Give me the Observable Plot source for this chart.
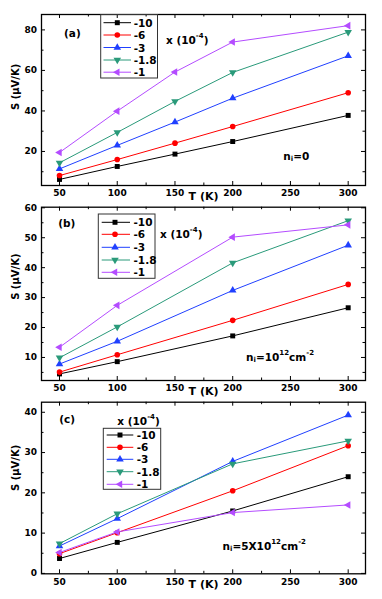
<!DOCTYPE html>
<html><head><meta charset="utf-8">
<script src="https://cdn.jsdelivr.net/npm/d3@7"></script>
<script src="https://cdn.jsdelivr.net/npm/@observablehq/plot@0.6"></script>
<style>
body{margin:0;background:#fff}
#chart{position:relative;width:382px;height:599px;overflow:hidden}
#chart svg{position:absolute;left:0}
</style>
</head><body><div id="chart"></div>
<script>
// ---- data ----
const seriesNames = ["-10", "-6", "-3", "-1.8", "-1"];
const seriesColors = ["#000000", "#ff0000", "#2040ff", "#2a9a7a", "#b44cff"];

const tempsA = [50, 100, 150, 200, 300];
const sA_m10 = [6.2, 12.6, 18.7, 24.9, 37.8];
const sA_m6 = [8.1, 16.0, 24.1, 32.3, 49.0];
const sA_m3 = [11.4, 23.0, 34.5, 46.3, 67.2];
const sA_m18 = [14.4, 29.4, 44.7, 59.0, 78.9];
const sA_m1 = [19.5, 39.9, 59.2, 74.0, 82.1];

const tempsB = [50, 100, 200, 300];
const sB_m10 = [4.5, 8.6, 17.2, 26.6];
const sB_m6 = [5.1, 10.9, 22.4, 34.4];
const sB_m3 = [7.8, 15.4, 32.4, 47.5];
const sB_m18 = [9.9, 20.2, 41.6, 55.7];
const sB_m1 = [13.4, 27.4, 50.2, 54.3];

const tempsC = [50, 100, 200, 300];
const sC_m10 = [3.7, 7.7, 15.5, 24.0];
const sC_m6 = [4.9, 10.1, 20.5, 31.7];
const sC_m3 = [6.8, 13.6, 27.8, 39.3];
const sC_m18 = [7.4, 14.8, 27.2, 32.9];
const sC_m1 = [5.2, 10.3, 15.1, 17.0];

const xTicks = [50, 100, 150, 200, 250, 300];
const xMinor = [75, 125, 175, 225, 275];
const yTicksA = [20, 40, 60, 80], yMinorA = [10, 30, 50, 70];
const yTicksB = [10, 20, 30, 40, 50, 60], yMinorB = [5, 15, 25, 35, 45, 55];
const yTicksC = [0, 10, 20, 30, 40], yMinorC = [5, 15, 25, 35];

const labelX = "T (K)";
const labelY = "S (\u03bcV/K)";
const xUnit = ["x (10", "-4", ")"];

// ---- symbols ----
const triDown = {draw(ctx, size) {
  const y = Math.sqrt(size / (3 * Math.sqrt(3)));
  ctx.moveTo(0, 2 * y); ctx.lineTo(-Math.sqrt(3) * y, -y); ctx.lineTo(Math.sqrt(3) * y, -y); ctx.closePath();
}};
const triLeft = {draw(ctx, size) {
  const y = Math.sqrt(size / (3 * Math.sqrt(3)));
  ctx.moveTo(-2 * y, 0); ctx.lineTo(y, -Math.sqrt(3) * y); ctx.lineTo(y, Math.sqrt(3) * y); ctx.closePath();
}};
const seriesSymbols = [d3.symbolSquare, d3.symbolCircle, d3.symbolTriangle, triDown, triLeft];

function rows(temps, lists) {
  const out = [];
  lists.forEach((vals, i) => vals.forEach((v, j) => out.push({T: temps[j], S: v, x: seriesNames[i]})));
  return out;
}

const W = 382, ML = 41, MR = 17;
const FONT = "DejaVu Sans";

function panel(cfg) {
  const innerW = W - ML - MR, innerH = cfg.height - cfg.mt - cfg.mb;
  const data = rows(cfg.temps, cfg.lists);
  const marks = [];
  seriesNames.forEach((name, i) => {
    const d = data.filter(r => r.x === name);
    marks.push(Plot.line(d, {x: "T", y: "S", stroke: seriesColors[i], strokeWidth: 1}));
    marks.push(Plot.dot(d, {x: "T", y: "S", fill: seriesColors[i], stroke: "none", symbol: seriesSymbols[i], r: 2.8}));
  });
  const maj = 4, min = 2.5;
  marks.push(
    Plot.tickX(xTicks, {x: d => d, insetTop: innerH - maj, stroke: "black"}),
    Plot.tickX(xTicks, {x: d => d, insetBottom: innerH - maj, stroke: "black"}),
    Plot.tickX(xMinor, {x: d => d, insetTop: innerH - min, stroke: "black"}),
    Plot.tickX(xMinor, {x: d => d, insetBottom: innerH - min, stroke: "black"}),
    Plot.tickY(cfg.yTicks, {y: d => d, insetRight: innerW - maj, stroke: "black"}),
    Plot.tickY(cfg.yTicks, {y: d => d, insetLeft: innerW - maj, stroke: "black"}),
    Plot.tickY(cfg.yMinor, {y: d => d, insetRight: innerW - min, stroke: "black"}),
    Plot.tickY(cfg.yMinor, {y: d => d, insetLeft: innerW - min, stroke: "black"}),
    Plot.axisX({ticks: xTicks, tickSize: 0, tickPadding: 4.5, label: null, anchor: "bottom"}),
    Plot.axisY({ticks: cfg.yTicks, tickSize: 0, tickPadding: 4.5, label: null, anchor: "left"}),
    Plot.frame({stroke: "black", strokeWidth: 1.3}),
    Plot.text([labelX], {text: d => d, frameAnchor: "bottom", dy: 10.5, fontSize: 11, lineAnchor: "middle", fill: "black"}),
    Plot.text([labelY], {text: d => d, frameAnchor: "left", rotate: -90, dx: -26, dy: cfg.sdy, fontSize: 10, lineAnchor: "middle", fill: "black"})
  );
  const svg = Plot.plot({
    width: W, height: cfg.height,
    marginLeft: ML, marginRight: MR, marginTop: cfg.mt, marginBottom: cfg.mb,
    style: {fontFamily: FONT, fontWeight: "bold", fontSize: "9px", background: "transparent", overflow: "visible", color: "black"},
    x: {domain: [34.4, 315]},
    y: {domain: cfg.yDomain},
    marks
  });
  svg.style.top = cfg.top + "px";
  annotate(svg, cfg);
  return svg;
}

function annotate(svg, cfg) {
  const off = cfg.top;
  const g = d3.select(svg).append("g")
    .attr("font-family", FONT).attr("font-weight", "bold").attr("font-size", 10.5)
    .attr("fill", "black").attr("text-anchor", "start");
  // panel letter
  g.append("text").attr("x", cfg.letter[0]).attr("y", cfg.letter[1] - off)
    .attr("dominant-baseline", "central").text(cfg.letterText);
  // x (10^-4)
  const t = g.append("text").attr("x", cfg.unit[0]).attr("y", cfg.unit[1] - off).attr("dominant-baseline", "central");
  t.append("tspan").text(xUnit[0]);
  t.append("tspan").attr("font-size", 7).attr("dy", -4).text(xUnit[1]);
  t.append("tspan").attr("dy", 4).text(xUnit[2]);
  // legend
  const L = cfg.legend;
  g.append("rect").attr("x", L.x0).attr("y", L.y0 - off).attr("width", L.x1 - L.x0).attr("height", L.y1 - L.y0)
    .attr("fill", "none").attr("stroke", "#333").attr("stroke-width", 1);
  seriesNames.forEach((name, i) => {
    const y = L.ys[i] - off;
    g.append("line").attr("x1", L.l0).attr("x2", L.l1).attr("y1", y).attr("y2", y)
      .attr("stroke", seriesColors[i]).attr("stroke-width", 1);
    g.append("path").attr("transform", `translate(${L.m},${y})`)
      .attr("d", d3.symbol(seriesSymbols[i], Math.PI * 2.8 * 2.8)()).attr("fill", seriesColors[i]);
    g.append("text").attr("x", L.tx).attr("y", y).attr("dominant-baseline", "central").text(name);
  });
  // n_i annotation
  const n = g.append("text").attr("x", cfg.ni[0]).attr("y", cfg.ni[1] - off).attr("dominant-baseline", "central");
  n.append("tspan").text("n");
  n.append("tspan").attr("font-size", 7).attr("dy", 3).text("i");
  n.append("tspan").attr("dy", -3).text(cfg.niParts[0]);
  if (cfg.niParts.length > 1) {
    n.append("tspan").attr("font-size", 7).attr("dy", -4).text(cfg.niParts[1]);
    n.append("tspan").attr("dy", 4).text(cfg.niParts[2]);
    n.append("tspan").attr("font-size", 7).attr("dy", -4).text(cfg.niParts[3]);
  }
}

const chart = document.getElementById("chart");
chart.append(panel({
  top: 0, height: 199, mt: 14, mb: 14, yDomain: [3.2, 87.6], sdy: 10,
  temps: tempsA, lists: [sA_m10, sA_m6, sA_m3, sA_m18, sA_m1],
  yTicks: yTicksA, yMinor: yMinorA,
  letterText: "(a)", letter: [64, 33.3], unit: [166, 39.5],
  legend: {x0: 100.7, x1: 157.5, y0: 14.5, y1: 78, ys: [22.7, 35, 47.5, 60, 72.2], l0: 103.5, l1: 131, m: 117.3, tx: 133.7},
  ni: [283.3, 156], niParts: ["=0"]
}));
chart.append(panel({
  top: 199, height: 193, mt: 7.7, mb: 12, yDomain: [2.3, 60.2], sdy: 6,
  temps: tempsB, lists: [sB_m10, sB_m6, sB_m3, sB_m18, sB_m1],
  yTicks: yTicksB, yMinor: yMinorB,
  letterText: "(b)", letter: [58.3, 223.3], unit: [160, 234],
  legend: {x0: 98.3, x1: 155, y0: 214, y1: 278.3, ys: [222.3, 234.3, 247.3, 260, 272.3], l0: 101.7, l1: 130, m: 115, tx: 133.5},
  ni: [246, 356.5], niParts: ["=10", "12", "cm", "-2"]
}));
chart.append(panel({
  top: 392, height: 207, mt: 9.7, mb: 25.7, yDomain: [-0.1, 42.5], sdy: 3,
  temps: tempsC, lists: [sC_m10, sC_m6, sC_m3, sC_m18, sC_m1],
  yTicks: yTicksC, yMinor: yMinorC,
  letterText: "(c)", letter: [59.3, 419], unit: [117.3, 421],
  legend: {x0: 103.3, x1: 160.7, y0: 428.3, y1: 489.3, ys: [435, 447.3, 459.3, 471.7, 484.3], l0: 106.7, l1: 133.3, m: 120, tx: 136.7},
  ni: [222.5, 545.5], niParts: ["=5X10", "12", "cm", "-2"]
}));
</script>
</body></html>
